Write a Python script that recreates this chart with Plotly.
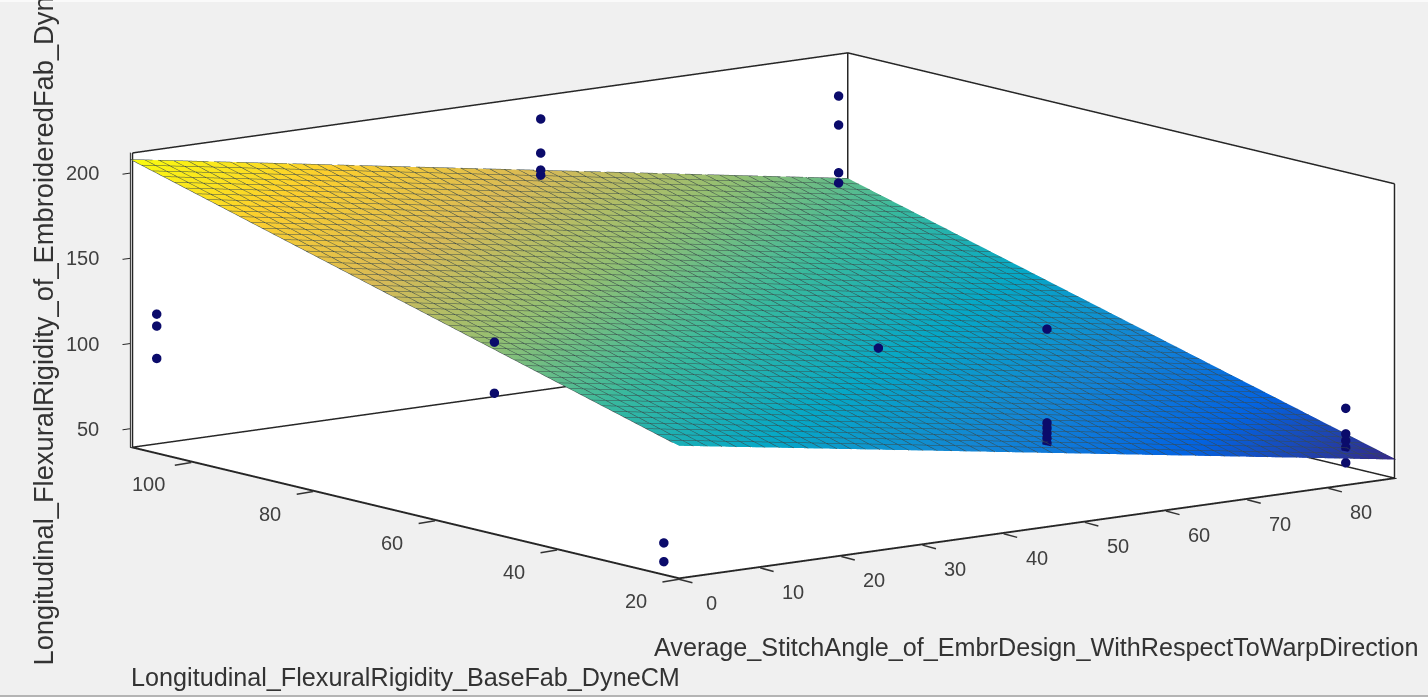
import plotly.graph_objects as go

x_range = [0, 88.4]
y_range = [20, 110]
z_range = [39, 212]
x_ticks = [0, 10, 20, 30, 40, 50, 60, 70, 80]
y_ticks = [20, 40, 60, 80, 100]
z_ticks = [50, 100, 150, 200]

plane_x = [0, 88.4]
plane_y = [20, 110]
plane_z = [[117, 50], [208, 138]]

pts_x = [0,0, 0,0,0, 0,0, 47.3, 47.3,47.3,47.3,47.3, 84,84,84,84,
         47.2,47.2,47.2,47.2,47.2,47.2, 84,84,84,84,84]
pts_y = [22.5,22.5, 105.7,105.7,105.7, 50.3,50.3, 50.3, 105.7,105.7,105.7,105.7, 105.7,105.7,105.7,105.7,
         22.5,22.5,22.5,22.5,22.5,22.5, 22.5,22.5,22.5,22.5,22.5]
pts_z = [58,47, 121,114,95, 152,122, 117, 204,184,174,171, 193,176,148,142,
         152,97,94,91,88,85, 81,66,62,58,49]

parula = [[0,'#352a87'],[0.125,'#0363e1'],[0.25,'#1485d4'],[0.375,'#06a7c6'],[0.5,'#38b99e'],
          [0.625,'#92bf73'],[0.75,'#d9ba56'],[0.875,'#fcce2e'],[1,'#f9fb0e']]

x0,x1 = x_range; y0,y1 = y_range; z0,z1 = z_range
e = 0.15
bx0,bx1,by0,by1,bz0,bz1 = x0+e,x1-e,y0+e,y1-e,z0+e,z1-e
box_x = [bx0,bx0,None, bx1,bx1,None, bx1,bx1,None, bx0,bx1,bx1,None, bx0,bx1,bx1,bx0,bx0]
box_y = [by1,by1,None, by0,by0,None, by1,by1,None, by1,by1,by0,None, by1,by1,by0,by0,by1]
box_z = [bz0,bz1,None, bz0,bz1,None, bz0,bz1,None, bz1,bz1,bz1,None, bz0,bz0,bz0,bz0,bz0]

fig = go.Figure()
fig.add_trace(go.Surface(
    x=plane_x, y=plane_y, z=plane_z, colorscale=parula, cmin=50, cmax=208, showscale=False,
    lighting=dict(ambient=1, diffuse=0, specular=0, roughness=1, fresnel=0),
    contours=dict(
        x=dict(show=True, start=x0, end=x1, size=1.77, color='#3a4a4a', width=1),
        y=dict(show=True, start=y0, end=y1, size=1.8, color='#3a4a4a', width=1)),
    hoverinfo='skip'))
fig.add_trace(go.Scatter3d(x=pts_x, y=pts_y, z=pts_z, mode='markers',
    marker=dict(size=5.5, color='#0b0b6b', line=dict(width=0))))
fig.add_trace(go.Scatter3d(x=box_x, y=box_y, z=box_z, mode='lines',
    line=dict(color='#262626', width=3), hoverinfo='skip'))

def axis(rng, ticks, tl, mark):
    return dict(range=rng, tickvals=ticks, ticktext=[str(t) for t in ticks], title=dict(text=''),
                showgrid=False, zeroline=False, showline=True, linecolor='#262626', linewidth=2,
                showspikes=False, showticklabels=False,
                showbackground=True, backgroundcolor='white', ticks=mark, ticklen=tl,
                tickcolor='#262626', tickwidth=2)

tick_font = dict(family='Liberation Sans', size=20, color='#404040')
def tick_mark(x, y, z, ax, ay):
    return dict(x=x, y=y, z=z, text=' ', showarrow=True, arrowhead=0, arrowwidth=1.5, arrowcolor='#333333',
                ax=ax, ay=ay, standoff=0, startstandoff=0, font=dict(size=1))
scene_ann = (
    [dict(x=t, y=y0, z=z0, text=str(t), showarrow=False, xanchor='center', yanchor='middle',
          xshift=33, yshift=-24, font=tick_font) for t in x_ticks] +
    [dict(x=x0, y=t, z=z0, text=str(t), showarrow=False, xanchor='center', yanchor='middle',
          xshift=-43, yshift=-22, font=tick_font) for t in y_ticks] +
    [dict(x=x0, y=y1, z=t, text=str(t), showarrow=False, xanchor='right', yanchor='middle',
          xshift=-29, yshift=0, font=tick_font) for t in z_ticks] +
    [tick_mark(t, y0, z0, 15, 4) for t in x_ticks] +
    [tick_mark(x0, t, z0, -18, 3) for t in y_ticks])

S = 2.0
K = 2.863
fig.update_layout(
    width=1428, height=697, margin=dict(l=0, r=0, t=0, b=0),
    paper_bgcolor='#f0f0f0', showlegend=False,
    scene=dict(
        domain=dict(x=[0.0693, 1], y=[0.094, 1]),
        aspectmode='manual', aspectratio=dict(x=K, y=K, z=0.332*K),
        camera=dict(projection=dict(type='orthographic'),
                    eye=dict(x=-0.597*S, y=-0.781*S, z=0.183*S),
                    center=dict(x=0, y=0, z=0), up=dict(x=0, y=0, z=1)),
        xaxis=axis(x_range, x_ticks, 0, ''), yaxis=axis(y_range, y_ticks, 0, ''),
        zaxis=axis(z_range, z_ticks, 6, 'outside'),
        annotations=scene_ann),
    shapes=[
        dict(type='rect', xref='paper', yref='paper', x0=0, x1=1, y0=1-2/697, y1=1,
             fillcolor='#fafafa', line=dict(width=0)),
        dict(type='rect', xref='paper', yref='paper', x0=0, x1=1, y0=0, y1=2/697,
             fillcolor='#b4b4b4', line=dict(width=0))],
    annotations=[
        dict(text='Longitudinal_FlexuralRigidity_BaseFab_DyneCM', xref='paper', yref='paper',
             x=129/1428, y=1-677/697, xanchor='left', yanchor='middle', showarrow=False,
             font=dict(family='Liberation Sans', size=25.2, color='#333333')),
        dict(text='Average_StitchAngle_of_EmbrDesign_WithRespectToWarpDirection', xref='paper', yref='paper',
             x=652/1428, y=1-647/697, xanchor='left', yanchor='middle', showarrow=False,
             font=dict(family='Liberation Sans', size=25.2, color='#333333')),
        dict(text='Longitudinal_FlexuralRigidity_of_EmbroideredFab_DyneCM', xref='paper', yref='paper',
             x=43/1428, y=1-668/697, xanchor='center', yanchor='bottom', textangle=-90, showarrow=False,
             font=dict(family='Liberation Sans', size=27.3, color='#333333')),
    ])
fig.write_html('out.html', config=dict(displayModeBar=False),
               post_script="document.body.style.margin='0';document.body.style.background='#f0f0f0';")
